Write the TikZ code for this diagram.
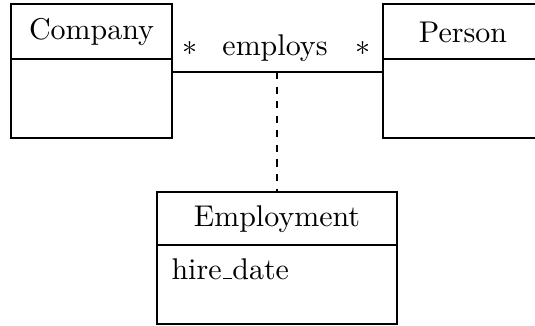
\documentclass[tikz,border=0pt]{standalone}
\newcommand{\lowbar}{\leavevmode\kern.06em\vbox{\hrule width.3em height 0.4pt}}
\begin{document}
\begin{tikzpicture}[x=0.3636pt,y=-0.3636pt,
  umlline/.style={line width=1pt},
  classname/.style={inner sep=0pt,font=\fontsize{10.9}{13}\selectfont},
  assoc/.style={umlline},
  assocclass/.style={umlline,dash pattern=on 2.6pt off 2.7pt}]
\useasboundingbox (0,0) rectangle (535,325);
\begin{scope}
\clip (0,0) rectangle (535,325);
% Company class
\draw[umlline] (11,4) rectangle (172,138);
\draw[umlline] (11,59) -- (172,59);
\node[classname] (company) at (91.5,32) {Company};
\coordinate (compR) at (172,72);
% Person class
\draw[umlline] (383,4) rectangle (543,138);
\draw[umlline] (383,59) -- (543,59);
\node[classname] (person) at (463,32) {Person};
\coordinate (persL) at (383,72);
% Employment association class
\draw[umlline] (157,192) rectangle (397,324);
\draw[umlline] (157,245) -- (397,245);
\node[classname] (employment) at (277,219) {Employment};
\node[classname,anchor=west] (hire) at (171,269) {hire\lowbar date};
\coordinate (empT) at (277,192);
% association
\draw[assoc] (compR) -- (persL);
\coordinate (midpt) at (277,72);
\node[classname] (employs) at (275,48) {employs};
\node[classname] (multL) at (190,48) {$*$};
\node[classname] (multR) at (363,48) {$*$};
\draw[assocclass] (midpt) -- (empT);
\end{scope}
\end{tikzpicture}
\end{document}
